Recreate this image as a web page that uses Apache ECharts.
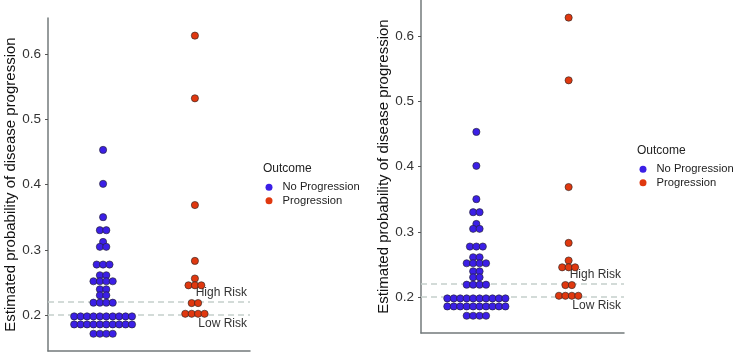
<!DOCTYPE html>
<html>
<head>
<meta charset="utf-8">
<script src="https://cdn.jsdelivr.net/npm/echarts@6/dist/echarts.min.js"></script>
<style>
html,body{margin:0;padding:0;background:#fff;}
#chart{width:735px;height:353px;}
</style>
</head>
<body>
<div id="chart"></div>
<script>
// ---- data ----
const groups = ['No Progression', 'Progression'];
const noProgression = [
  0.453, 0.401, 0.350, 0.330, 0.330, 0.312, 0.3045, 0.3045,
  0.2774, 0.2774, 0.2774, 0.261, 0.261, 0.2518, 0.2518, 0.2518, 0.2518,
  0.2395, 0.2395, 0.2303, 0.2303, 0.219, 0.219, 0.219, 0.219,
  0.198, 0.198, 0.198, 0.198, 0.198, 0.198, 0.198, 0.198, 0.198, 0.198,
  0.1857, 0.1857, 0.1857, 0.1857, 0.1857, 0.1857, 0.1857, 0.1857, 0.1857, 0.1857,
  0.1714, 0.1714, 0.1714, 0.1714
];
const progression = [
  0.628, 0.532, 0.3685, 0.283, 0.256, 0.2456, 0.2456, 0.2456,
  0.2184, 0.2184, 0.202, 0.202, 0.202, 0.202
];
const tickValues = [0.2, 0.3, 0.4, 0.5, 0.6];
const lowRisk = 0.198;
const highRisk = 0.224;
const yTitle = 'Estimated probability of disease progression';
const legendTitle = 'Outcome';

// ---- dotplot layout (stack equal values horizontally, centred) ----
function dotplot(values, center, step) {
  const counts = {};
  values.forEach(v => { counts[v] = (counts[v] || 0) + 1; });
  const seen = {};
  return values.map(v => {
    const n = counts[v];
    const i = seen[v] = (seen[v] === undefined ? 0 : seen[v] + 1);
    return [center + (i - (n - 1) / 2) * step, v];
  });
}

const FONT = 'Liberation Sans, Arial, sans-serif';
const BLUE = '#3b1fe6';
const RED = '#e0380f';
const STEP = 0.07;

const panels = [
  {grid: {left: 48, top: 18, width: 202, height: 333}, title: {left: 263, top: 163}, legend: {left: 265.5, top: 180.5}},
  {grid: {left: 421, top: 0, width: 203, height: 333}, title: {left: 637, top: 145}, legend: {left: 639.5, top: 162.5}}
];

const option = {
  animation: false,
  backgroundColor: '#fff',
  title: panels.map(p => ({
    text: legendTitle, left: p.title.left, top: p.title.top, padding: 0,
    textStyle: {fontFamily: FONT, fontSize: 12, fontWeight: 'normal', color: '#222'}
  })),
  legend: panels.map(p => ({
    orient: 'vertical', left: p.legend.left, top: p.legend.top, padding: 0,
    itemWidth: 7, itemHeight: 7, itemGap: 0, icon: 'circle',
    itemStyle: {borderWidth: 0},
    data: groups,
    textStyle: {fontFamily: FONT, fontSize: 11.2, color: '#222', lineHeight: 13.5, padding: [0, 0, 0, 5]}
  })),
  grid: panels.map(p => Object.assign({containLabel: false}, p.grid)),
  xAxis: panels.map((p, k) => ({
    type: 'value', gridIndex: k, min: 0.4, max: 2.6,
    axisLine: {show: true, onZero: false, lineStyle: {color: '#737a7b', width: 1.5}},
    axisTick: {show: false}, axisLabel: {show: false}, splitLine: {show: false}
  })),
  yAxis: panels.map((p, k) => ({
    type: 'value', gridIndex: k, min: 0.145, max: 0.655,
    name: yTitle, nameLocation: 'middle', nameRotate: 90, nameGap: 29.5,
    nameTextStyle: {fontFamily: FONT, fontSize: 15, color: '#111'},
    axisLine: {show: true, lineStyle: {color: '#737a7b', width: 1.5}},
    axisTick: {show: true, length: 3, customValues: tickValues, lineStyle: {color: '#555'}},
    axisLabel: {customValues: tickValues, fontFamily: FONT, fontSize: 13.5, color: '#333', margin: 7,
      formatter: v => v.toFixed(1)},
    splitLine: {show: false}
  })),
  series: []
};

panels.forEach((p, k) => {
  option.series.push({
    name: groups[0], type: 'scatter', xAxisIndex: k, yAxisIndex: k,
    symbolSize: 7.2, itemStyle: {color: BLUE, borderColor: '#222', borderWidth: 0.6, opacity: 1},
    data: dotplot(noProgression, 1, STEP), z: 3,
    markLine: {
      silent: true, symbol: 'none',
      lineStyle: {color: '#c5cfcb', type: [6, 4], width: 1.5},
      data: [
        {yAxis: highRisk, label: {formatter: 'High Risk', position: 'insideEndTop', distance: 3,
          fontFamily: FONT, fontSize: 12, color: '#333'}},
        {yAxis: lowRisk, label: {formatter: 'Low Risk', position: 'insideEndBottom', distance: 3,
          fontFamily: FONT, fontSize: 12, color: '#333'}}
      ],
      z: 1
    }
  });
  option.series.push({
    name: groups[1], type: 'scatter', xAxisIndex: k, yAxisIndex: k,
    symbolSize: 7.2, itemStyle: {color: RED, borderColor: '#222', borderWidth: 0.6, opacity: 1},
    data: dotplot(progression, 2, STEP), z: 3
  });
});

const chart = echarts.init(document.getElementById('chart'), null, {renderer: 'canvas'});
chart.setOption(option);
</script>
</body>
</html>
